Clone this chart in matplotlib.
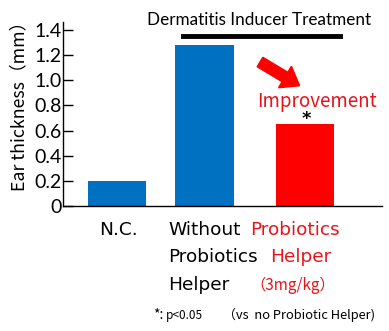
import matplotlib
matplotlib.use("Agg")
import matplotlib.pyplot as plt
from matplotlib.patches import FancyArrow

# ---- data ----
categories = ["N.C.", "Without Probiotics Helper", "Probiotics Helper (3mg/kg)"]
values = [0.20, 1.28, 0.65]
bar_colors = ["#0070C0", "#0070C0", "#FF0000"]
yticks = [0, 0.2, 0.4, 0.6, 0.8, 1.0, 1.2, 1.4]
ytick_labels = ["0", "0.2", "0.4", "0.6", "0.8", "1.0", "1.2", "1.4"]
positions = [0, 1, 2.15]

W, H = 389, 331
fig = plt.figure(figsize=(W / 100, H / 100), dpi=100)

def fx(x):
    return x / W

def fy(y):
    return 1 - y / H

RED_TXT = "#E8141B"

ax = fig.add_axes([fx(63), fy(206), fx(382) - fx(63), fy(22) - fy(206)])
ax.bar(positions, values, width=0.667, color=bar_colors, zorder=2)
ax.set_xlim(-0.626, 3.04)
ax.set_ylim(0, 1.464)
ax.set_yticks(yticks)
ax.set_yticklabels(ytick_labels, fontfamily="Lato", fontsize=14)
ax.set_xticks([])
ax.tick_params(axis="y", direction="in", length=7, width=1, pad=1)
for s in ["top", "right"]:
    ax.spines[s].set_visible(False)
for s in ["left", "bottom"]:
    ax.spines[s].set_linewidth(1.0)
    ax.spines[s].set_color("black")

fig.text(fx(19), fy(102), "Ear thickness（mm）", rotation=90, ha="center", va="center",
         fontfamily=["Noto Sans CJK JP", "DejaVu Sans"], fontsize=12.8)

# treatment label + bar
fig.text(fx(259), fy(20), "Dermatitis Inducer Treatment", ha="center", va="center",
         fontfamily="Lato", fontsize=12.3)
fig.add_artist(plt.Line2D([fx(183), fx(340)], [fy(35.5), fy(35.5)], color="black", lw=3.5))

# arrow
fig.add_artist(FancyArrow(260 / 100, (H - 62) / 100, 25 / 100, -15 / 100,
                          width=0.11, head_width=0.25, head_length=0.17,
                          length_includes_head=False, color="#FF0000",
                          transform=fig.dpi_scale_trans))

fig.text(fx(317), fy(101), "Improvement", ha="center", va="center", color=RED_TXT,
         fontfamily=["Noto Sans CJK JP"], fontsize=13.5)
fig.text(fx(306), fy(119), "*", ha="center", va="center", color="black",
         fontfamily="DejaVu Sans", fontsize=13, fontweight="bold")

# x labels
fs = 13.3
fam = "DejaVu Sans"
fig.text(fx(118), fy(230), "N.C.", ha="center", va="center", fontfamily=fam, fontsize=fs)
fig.text(fx(168), fy(230), "Without", ha="left", va="center", fontfamily=fam, fontsize=fs)
fig.text(fx(168), fy(257), "Probiotics", ha="left", va="center", fontfamily=fam, fontsize=fs)
fig.text(fx(168), fy(285), "Helper", ha="left", va="center", fontfamily=fam, fontsize=fs)
fig.text(fx(295), fy(230), "Probiotics", ha="center", va="center", fontfamily=fam,
         fontsize=fs, color=RED_TXT)
fig.text(fx(301), fy(257), "Helper", ha="center", va="center", fontfamily=fam,
         fontsize=fs, color=RED_TXT)
fig.text(fx(293), fy(285), "（3mg/kg）", ha="center", va="center",
         fontfamily=["Noto Sans CJK JP"], fontsize=11, color=RED_TXT)

fig.text(fx(153), fy(315), "*:", ha="left", va="center",
         fontfamily=["Noto Sans CJK JP"], fontsize=10)
fig.text(fx(166), fy(316), "p<0.05", ha="left", va="center",
         fontfamily=["Noto Sans CJK JP"], fontsize=8.5)
fig.text(fx(375), fy(315), "（vs  no Probiotic Helper)", ha="right", va="center",
         fontfamily=["Noto Sans CJK JP"], fontsize=9.3)

fig.savefig("out.png", dpi=100)
